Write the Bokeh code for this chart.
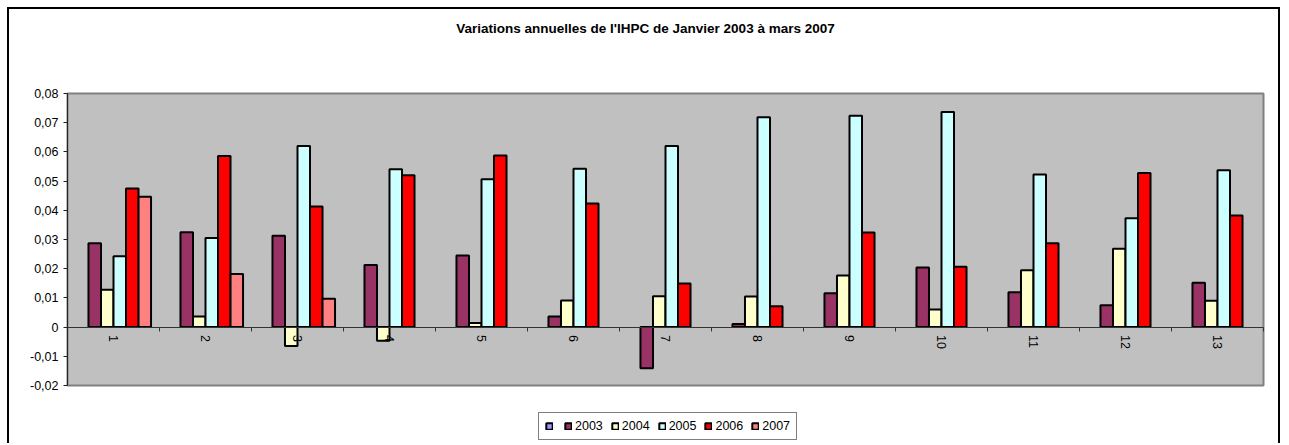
from bokeh.plotting import figure
from bokeh.models import (Range1d, Label, Legend, LegendItem, ColumnDataSource,
                          FixedTicker, CustomJSTickFormatter)
from bokeh.embed import file_html
from bokeh.resources import INLINE

# ---------------- data ----------------
categories = ["1", "2", "3", "4", "5", "6", "7", "8", "9", "10", "11", "12", "13"]
series_names = ["2003", "2004", "2005", "2006", "2007"]
v2003 = [0.0287, 0.0325, 0.0313, 0.0213, 0.0245, 0.0036, -0.0141, 0.0011, 0.0116, 0.0204, 0.0119, 0.0075, 0.0152]
v2004 = [0.0128, 0.0036, -0.0065, -0.0047, 0.0014, 0.0091, 0.0106, 0.0105, 0.0177, 0.0060, 0.0195, 0.0268, 0.0090]
v2005 = [0.0243, 0.0305, 0.0620, 0.0541, 0.0506, 0.0542, 0.0620, 0.0719, 0.0724, 0.0737, 0.0523, 0.0373, 0.0537]
v2006 = [0.0475, 0.0586, 0.0413, 0.0520, 0.0588, 0.0423, 0.0149, 0.0071, 0.0324, 0.0207, 0.0287, 0.0528, 0.0382]
v2007 = [0.0446, 0.0182, 0.0097]
blank_series = [float("nan")]          # first (unnamed, empty) series of the original
y_ticks = [-0.02, -0.01, 0, 0.01, 0.02, 0.03, 0.04, 0.05, 0.06, 0.07, 0.08]
title_text = "Variations annuelles de l'IHPC de Janvier 2003 à mars 2007"

colors = ["#993366", "#FFFFCC", "#CCFFFF", "#FF0000", "#FF8080"]
blank_color = "#9999FF"
FONT = "Liberation Sans"
FS = "12.5px"

# ---------------- layout (canvas pixels) ----------------
W, H = 1273, 436
PL, PR, PT, PB = 58, 1254, 84, 376      # grey plot-area box inside the canvas

n = len(categories)
ymin, ymax = y_ticks[0], y_ticks[-1]
xpp = n / (PR - PL)
ypp = (ymax - ymin) / (PB - PT)
x_range = Range1d(-PL * xpp, n + (W - PR) * xpp)
y_range = Range1d(ymin - (H - PB) * ypp, ymax + PT * ypp)

p = figure(width=W, height=H, output_backend="svg", toolbar_location=None,
           x_range=x_range, y_range=y_range,
           min_border=0, min_border_left=0, min_border_right=0,
           min_border_top=0, min_border_bottom=0)
p.styles = {"margin-left": "7px", "margin-top": "7px",
            "border-left": "2px solid black", "border-top": "2px solid black",
            "border-right": "2px solid black"}
p.background_fill_color = "white"
p.border_fill_color = "white"
p.outline_line_color = None
p.xgrid.visible = False
p.ygrid.visible = False

# grey plot area
p.quad(left=[0], right=[n], bottom=[ymin], top=[ymax],
       fill_color="#C0C0C0", line_color="#808080", line_width=2)

slot = 0.136
n_slots = len(series_names) + 1
offsets = [(k - (n_slots - 1) / 2) * slot for k in range(n_slots)]

blank = p.vbar(x="x", top="v", bottom=0, width=slot,
               source=ColumnDataSource(dict(x=[0.5 + offsets[0]], v=blank_series)),
               fill_color=blank_color, line_color="black", line_width=2)
items = [LegendItem(label="", renderers=[blank])]

all_vals = [v2003, v2004, v2005, v2006, v2007]
for i, (name, vals) in enumerate(zip(series_names, all_vals)):
    xs = [k + 0.5 + offsets[i + 1] for k in range(len(vals))]
    src = ColumnDataSource(dict(x=xs, v=vals, cat=categories[:len(vals)]))
    r = p.vbar(x="x", top="v", bottom=0, width=slot, source=src,
               fill_color=colors[i], line_color="black", line_width=2)
    items.append(LegendItem(label=name, renderers=[r]))

# ---------------- axes ----------------
centers = [k + 0.5 for k in range(n)]
bounds = list(range(n + 1))

xa = p.xaxis[0]
xa.fixed_location = 0
xa.bounds = (0, n)
xa.ticker = FixedTicker(ticks=centers, minor_ticks=bounds)
xa.formatter = CustomJSTickFormatter(args=dict(labels=categories),
                                     code="return labels[Math.floor(tick)];")
xa.axis_line_color = "#333333"
xa.axis_line_width = 1
xa.major_tick_line_color = None
xa.major_tick_out = 0
xa.major_tick_in = 0
xa.minor_tick_line_color = "#333333"
xa.minor_tick_out = 4
xa.minor_tick_in = 0
xa.major_label_orientation = "vertical"
xa.major_label_standoff = 4
xa.major_label_text_font = FONT
xa.major_label_text_font_size = FS
xa.major_label_text_color = "black"

ya = p.yaxis[0]
ya.fixed_location = 0
ya.bounds = (ymin, ymax)
ya.ticker = FixedTicker(ticks=y_ticks)
ya.formatter = CustomJSTickFormatter(
    code="return Math.abs(tick) < 1e-9 ? '0' : tick.toFixed(2).replace('.', ',');")
ya.axis_line_color = "#222222"
ya.axis_line_width = 1
ya.major_tick_out = 4
ya.major_tick_in = 0
ya.major_tick_line_color = "#222222"
ya.minor_tick_line_color = None
ya.major_label_standoff = 5
ya.major_label_text_font = FONT
ya.major_label_text_font_size = FS
ya.major_label_text_color = "black"

# ---------------- title ----------------
p.add_layout(Label(x=636, y=H - 19, x_units="screen", y_units="screen", text=title_text,
                   text_font=FONT, text_font_size="13.5px", text_font_style="bold",
                   text_align="center", text_baseline="middle", text_color="black"))

# ---------------- legend ----------------
legend = Legend(items=items, orientation="horizontal", location=(529, 5),
                glyph_width=8, glyph_height=8, label_standoff=3, spacing=8,
                padding=6, margin=0, label_height=12, label_width=0,
                label_text_font=FONT, label_text_font_size=FS,
                label_text_color="black", border_line_color="black",
                border_line_width=1, background_fill_color="white",
                background_fill_alpha=1)
p.add_layout(legend, "center")

open("out.html", "w").write(file_html(p, INLINE))
